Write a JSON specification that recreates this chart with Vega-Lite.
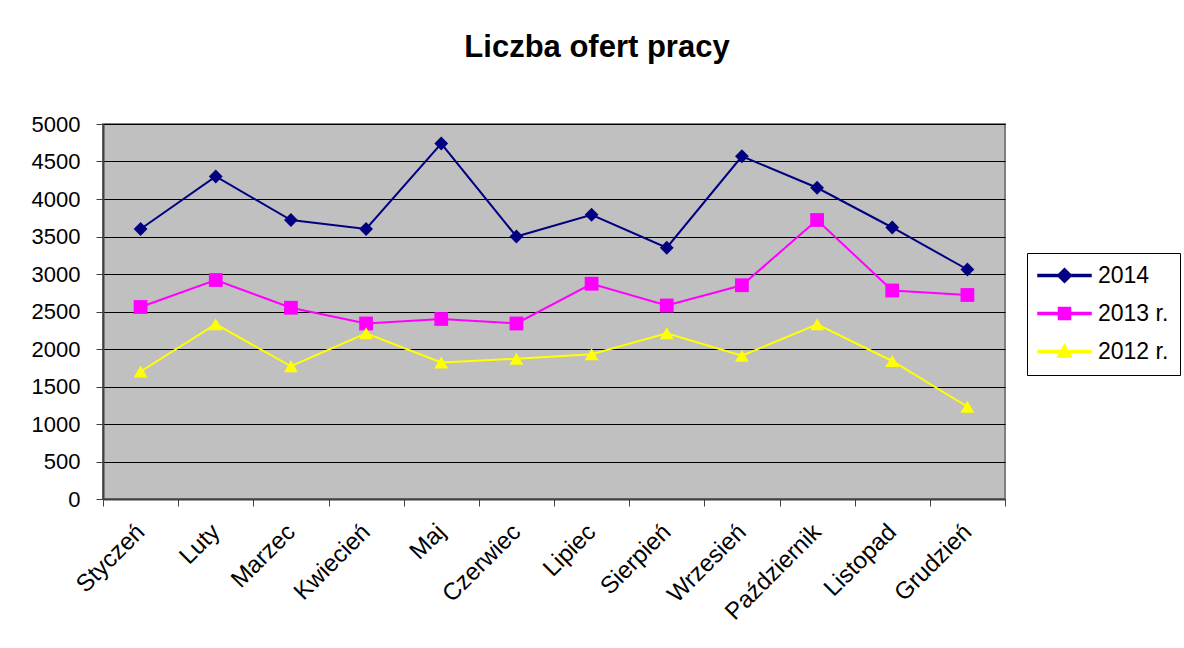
{
  "$schema": "https://vega.github.io/schema/vega-lite/v6.json",
  "autosize": "none",
  "width": 902,
  "height": 375,
  "padding": {"left": 103, "top": 124, "right": 179, "bottom": 149},
  "background": "white",
  "title": {
    "text": "Liczba ofert pracy",
    "font": "Liberation Sans",
    "fontSize": 31,
    "fontWeight": "bold",
    "color": "black",
    "anchor": "middle",
    "frame": "group",
    "dx": 43,
    "offset": 49
  },
  "data": {
    "values": [
      {"miesiac": "Styczeń", "seria": "2014", "wartosc": 3600},
      {"miesiac": "Luty", "seria": "2014", "wartosc": 4300},
      {"miesiac": "Marzec", "seria": "2014", "wartosc": 3720},
      {"miesiac": "Kwiecień", "seria": "2014", "wartosc": 3600},
      {"miesiac": "Maj", "seria": "2014", "wartosc": 4740},
      {"miesiac": "Czerwiec", "seria": "2014", "wartosc": 3500},
      {"miesiac": "Lipiec", "seria": "2014", "wartosc": 3790},
      {"miesiac": "Sierpień", "seria": "2014", "wartosc": 3350},
      {"miesiac": "Wrzesień", "seria": "2014", "wartosc": 4570},
      {"miesiac": "Październik", "seria": "2014", "wartosc": 4150},
      {"miesiac": "Listopad", "seria": "2014", "wartosc": 3620},
      {"miesiac": "Grudzień", "seria": "2014", "wartosc": 3060},
      {"miesiac": "Styczeń", "seria": "2013 r.", "wartosc": 2560},
      {"miesiac": "Luty", "seria": "2013 r.", "wartosc": 2920},
      {"miesiac": "Marzec", "seria": "2013 r.", "wartosc": 2550},
      {"miesiac": "Kwiecień", "seria": "2013 r.", "wartosc": 2340},
      {"miesiac": "Maj", "seria": "2013 r.", "wartosc": 2400},
      {"miesiac": "Czerwiec", "seria": "2013 r.", "wartosc": 2340},
      {"miesiac": "Lipiec", "seria": "2013 r.", "wartosc": 2870},
      {"miesiac": "Sierpień", "seria": "2013 r.", "wartosc": 2580},
      {"miesiac": "Wrzesień", "seria": "2013 r.", "wartosc": 2850},
      {"miesiac": "Październik", "seria": "2013 r.", "wartosc": 3720},
      {"miesiac": "Listopad", "seria": "2013 r.", "wartosc": 2780},
      {"miesiac": "Grudzień", "seria": "2013 r.", "wartosc": 2720},
      {"miesiac": "Styczeń", "seria": "2012 r.", "wartosc": 1700},
      {"miesiac": "Luty", "seria": "2012 r.", "wartosc": 2330},
      {"miesiac": "Marzec", "seria": "2012 r.", "wartosc": 1770},
      {"miesiac": "Kwiecień", "seria": "2012 r.", "wartosc": 2210},
      {"miesiac": "Maj", "seria": "2012 r.", "wartosc": 1820},
      {"miesiac": "Czerwiec", "seria": "2012 r.", "wartosc": 1870},
      {"miesiac": "Lipiec", "seria": "2012 r.", "wartosc": 1930},
      {"miesiac": "Sierpień", "seria": "2012 r.", "wartosc": 2210},
      {"miesiac": "Wrzesień", "seria": "2012 r.", "wartosc": 1910},
      {"miesiac": "Październik", "seria": "2012 r.", "wartosc": 2330},
      {"miesiac": "Listopad", "seria": "2012 r.", "wartosc": 1840},
      {"miesiac": "Grudzień", "seria": "2012 r.", "wartosc": 1230}
    ]
  },
  "encoding": {
    "x": {
      "field": "miesiac",
      "type": "nominal",
      "sort": null,
      "scale": {"type": "band", "paddingInner": 0, "paddingOuter": 0},
      "axis": {
        "title": null,
        "tickBand": "extent",
        "labelAngle": -45,
        "labelAlign": "right",
        "labelBaseline": "middle",
        "labelFont": "Liberation Sans",
        "labelFontSize": 24,
        "labelColor": "black",
        "labelPadding": 22,
        "tickSize": 7,
        "tickColor": "#404040",
        "domainColor": "#404040",
        "domainWidth": 2,
        "grid": false
      }
    },
    "y": {
      "field": "wartosc",
      "type": "quantitative",
      "scale": {"domain": [0, 5000], "nice": false},
      "axis": {
        "title": null,
        "format": "d",
        "values": [0, 500, 1000, 1500, 2000, 2500, 3000, 3500, 4000, 4500, 5000],
        "labelFont": "Liberation Sans",
        "labelFontSize": 22,
        "labelColor": "black",
        "labelPadding": 16,
        "tickSize": 7,
        "tickColor": "#404040",
        "domainColor": "#404040",
        "domainWidth": 2,
        "grid": true,
        "gridColor": "black",
        "gridWidth": 1,
        "gridOpacity": 1
      }
    },
    "color": {
      "field": "seria",
      "type": "nominal",
      "scale": {"domain": ["2014", "2013 r.", "2012 r."], "range": ["#000080", "#FF00FF", "#FFFF00"]},
      "legend": {
        "title": null,
        "orient": "none",
        "legendX": 924,
        "legendY": 129,
        "strokeColor": "black",
        "fillColor": "white",
        "padding": 11,
        "symbolSize": 100,
        "symbolOffset": 15,
        "labelOffset": 22,
        "rowPadding": 14,
        "labelFont": "Liberation Sans",
        "labelFontSize": 23,
        "labelColor": "black",
        "encode": {
          "symbols": {
            "update": {
              "shape": {"signal": "datum.value === '2014' ? 'M-5.3,-0.2H5.3V0.2H-5.3ZM0,-1.4L1.4,0L0,1.4L-1.4,0Z' : datum.value === '2013 r.' ? 'M-5.3,-0.2H5.3V0.2H-5.3ZM-1.2,-1.2H1.2V1.2H-1.2Z' : 'M-5.3,-0.2H5.3V0.2H-5.3ZM0,-1.4L1.4,1.1H-1.4Z'"},
              "fill": {"scale": "color", "field": "value"},
              "opacity": {"value": 1},
              "fillOpacity": {"value": 1}
            }
          }
        }
      }
    }
  },
  "layer": [
    {"mark": {"type": "line", "strokeWidth": 2}},
    {
      "mark": {"type": "point", "filled": true, "opacity": 1},
      "encoding": {
        "shape": {
          "field": "seria",
          "type": "nominal",
          "scale": {"domain": ["2013 r.", "2014", "2012 r."], "range": ["square", "diamond", "triangle-up"]},
          "legend": null
        },
        "size": {"value": 190}
      }
    }
  ],
  "config": {
    "view": {"fill": "#C0C0C0", "stroke": "#808080", "strokeWidth": 2}
  }
}
